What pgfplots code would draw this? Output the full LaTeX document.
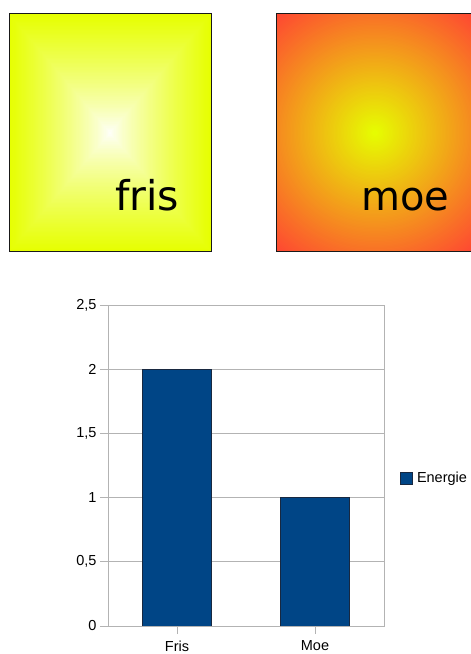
\documentclass[border=0pt]{standalone}
\usepackage{fontspec}
\setmainfont{Liberation Sans}
\newfontfamily\dejavu{DejaVu Sans}
\usepackage{pgfplots}
\pgfplotsset{compat=1.18}

\definecolor{frisyellow}{RGB}{230,255,0}
\definecolor{moered}{RGB}{255,68,51}
\definecolor{barblue}{RGB}{0,69,134}
\definecolor{barline}{RGB}{24,40,64}
\definecolor{gridgray}{RGB}{179,179,179}

\begin{document}
\begin{tikzpicture}[x=1pt,y=1pt]
\useasboundingbox (0,0) rectangle (471,654);

% "fris" tile: square gradient, yellow rim to white centre
\foreach \i in {0,...,90}{
  \pgfmathsetmacro{\s}{1-\i/90}
  \pgfmathsetmacro{\p}{100*\s^0.8}
  \fill[frisyellow!\p!white] ({110-101*\s},{521-119*\s}) rectangle ({110+101*\s},{521+119*\s});
}
\draw[line width=1pt, black!90] (9,402) rectangle (211,640);
\node[anchor=base west, inner sep=0pt, font=\dejavu\fontsize{41}{48}\selectfont] at (115,443) {fris};

% "moe" tile: radial gradient, yellow centre to red corners
\begin{scope}
  \clip (276,402) rectangle (476,640);
  \foreach \i in {0,...,110}{
    \pgfmathsetmacro{\s}{1-\i/110}
    \pgfmathsetmacro{\p}{100*\s}
    \fill[moered!\p!frisyellow] (375,521) circle ({157*\s});
  }
\end{scope}
\draw[line width=1pt, black!90] (276,402) rectangle (476,640);
\node[anchor=base west, inner sep=0pt, font=\dejavu\fontsize{40}{48}\selectfont] at (361,443) {moe};

% bar chart
\begin{axis}[
  at={(108pt,28pt)}, anchor=south west,
  scale only axis, width=276pt, height=321pt,
  xmin=-0.5, xmax=1.5, ymin=0, ymax=2.5,
  xtick={0,1}, xticklabels={Fris,Moe},
  ytick={0,0.5,1,1.5,2,2.5},
  ymajorgrids,
  grid style={gridgray, line width=0.8pt},
  axis line style={gridgray, line width=0.8pt},
  tick style={gridgray, line width=0.8pt},
  tick align=outside, tick pos=left, major tick length=8pt,
  ticklabel style={font=\fontsize{14.5}{17}\selectfont},
  xticklabel style={yshift=-3pt},
  /pgf/number format/assume math mode=true,
  /pgf/number format/use comma,
  ybar, bar width=0.5,
  legend style={at={(1.058,0.461)}, anchor=west, draw=none, fill=none,
    font=\fontsize{14.5}{17}\selectfont, inner sep=0pt,
    nodes={inner sep=0pt}, column sep=4pt},
  legend image code/.code={\draw[#1] (0pt,-6pt) rectangle (12pt,6pt);},
]
\addplot[fill=barblue, draw=barline, line width=0.8pt] coordinates {(0,2) (1,1)};
\addlegendentry{Energie}
\end{axis}
\end{tikzpicture}
\end{document}
